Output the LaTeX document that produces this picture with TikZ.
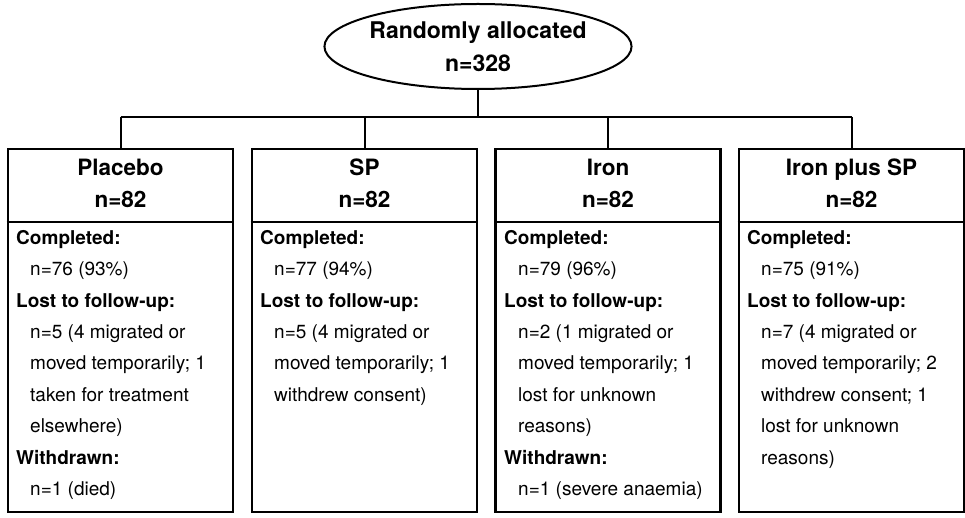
\documentclass[tikz,border=0pt]{standalone}
\usepackage{fontspec}
\setmainfont{TeX Gyre Heros}
\usetikzlibrary{shapes.geometric}
\newcommand\sub{\hspace*{14pt}}
\begin{document}
\begin{tikzpicture}[x=1pt,y=-1pt,
  groupbox/.style={draw, line width=2.8pt, minimum width=225pt, minimum height=363pt, inner sep=0pt},
  headtext/.style={align=center, inner sep=0pt, font=\bfseries\fontsize{22.5}{32}\selectfont},
  bodytext/.style={align=left, anchor=north west, inner sep=0pt, font=\fontsize{19}{31.4}\selectfont},
  startnode/.style={draw, ellipse, line width=2pt, minimum width=284pt, minimum height=85pt, inner sep=0pt, align=center, font=\bfseries\fontsize{23}{33}\selectfont},
  link/.style={line width=2pt},
  divider/.style={line width=2pt}]
\useasboundingbox (0,0) rectangle (965,518);

% top node
\node[startnode] (alloc) at (478,46.5) {Randomly allocated\\n=328};

% group boxes
\node[groupbox] (placebo) at (120.5,330.5) {};
\node[groupbox] (sp)      at (364.5,330.5) {};
\node[groupbox] (iron)    at (608,330.5) {};
\node[groupbox] (ironsp)  at (851.5,330.5) {};

% bus line and header rule height
\coordinate (bus) at (0,117);
\coordinate (headline) at (0,222);

\draw[link] (alloc.south) -- (alloc.south |- bus);
\draw[link] (placebo.north |- bus) -- (ironsp.north |- bus);
\foreach \g in {placebo,sp,iron,ironsp}{
  \draw[link] (\g.north |- bus) -- (\g.north);
  \draw[divider] (\g.west |- headline) -- (\g.east |- headline);
}

% headers
\node[headtext] (placebo-head) at (120.5,183) {Placebo\\n=82};
\node[headtext] (sp-head)      at (364.5,183) {SP\\n=82};
\node[headtext] (iron-head)    at (608,183)   {Iron\\n=82};
\node[headtext] (ironsp-head)  at (851.5,183) {Iron plus SP\\n=82};

% outcome text
\node[bodytext] (placebo-body) at (16,230) {%
  \textbf{Completed:}\\
  \sub n=76 (93\%)\\
  \textbf{Lost to follow-up:}\\
  \sub n=5 (4 migrated or\\
  \sub moved temporarily; 1\\
  \sub taken for treatment\\
  \sub elsewhere)\\
  \textbf{Withdrawn:}\\
  \sub n=1 (died)};
\node[bodytext] (sp-body) at (260,230) {%
  \textbf{Completed:}\\
  \sub n=77 (94\%)\\
  \textbf{Lost to follow-up:}\\
  \sub n=5 (4 migrated or\\
  \sub moved temporarily; 1\\
  \sub withdrew consent)};
\node[bodytext] (iron-body) at (504,230) {%
  \textbf{Completed:}\\
  \sub n=79 (96\%)\\
  \textbf{Lost to follow-up:}\\
  \sub n=2 (1 migrated or\\
  \sub moved temporarily; 1\\
  \sub lost for unknown\\
  \sub reasons)\\
  \textbf{Withdrawn:}\\
  \sub n=1 (severe anaemia)};
\node[bodytext] (ironsp-body) at (747,230) {%
  \textbf{Completed:}\\
  \sub n=75 (91\%)\\
  \textbf{Lost to follow-up:}\\
  \sub n=7 (4 migrated or\\
  \sub moved temporarily; 2\\
  \sub withdrew consent; 1\\
  \sub lost for unknown\\
  \sub reasons)};
\end{tikzpicture}
\end{document}
